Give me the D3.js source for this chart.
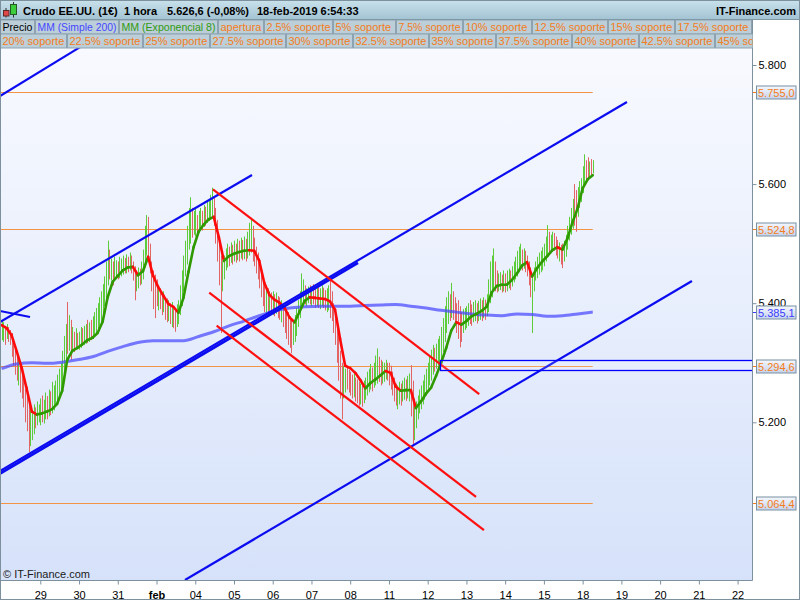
<!DOCTYPE html>
<html><head><meta charset="utf-8">
<script src="https://cdn.jsdelivr.net/npm/d3@7"></script>
<style>body{margin:0;background:#fff}svg{display:block;font-family:"Liberation Sans",Arial,sans-serif}</style>
</head><body><svg id="c" width="800" height="600"></svg>
<script>
// ---------------- DATA ----------------
const dayLabels = ["29","30","31","feb","04","05","06","07","08","11","12","13","14","15","18","19","20","21","22"];
const candlesPerDay = 23;
const highs = [
5372,5368,5362,5365,5360,5355,5350,5340,5325,5315,5305,5300,5290,5275,5255,5260,5240,5225,5215,5230,5225,5235,5230,
5240,5245,5238,5250,5244,5255,5252,5268,5262,5270,5280,5290,5300,5320,5345,5365,5402,5380,5372,5360,5352,5358,5350,
5352,5360,5358,5362,5365,5372,5368,5372,5378,5385,5392,5400,5410,5420,5432,5445,5470,5505,5490,5475,5470,5478,5472,
5470,5478,5475,5480,5476,5482,5478,5485,5480,5470,5462,5455,5460,5458,5470,5490,5530,5548,5545,5500,5470,5455,5448,
5440,5430,5425,5418,5420,5410,5408,5405,5400,5402,5395,5390,5398,5405,5430,5455,5480,5505,5530,5560,5578,5560,5555,
5560,5548,5555,5560,5555,5565,5562,5570,5575,5582,5594,5580,5560,5540,5510,5480,5470,5480,5492,5500,5495,5502,5498,
5505,5500,5508,5505,5510,5506,5512,5508,5520,5535,5543,5530,5510,5495,5485,5475,5460,5445,5438,5430,5425,5420,5418,
5420,5415,5418,5412,5410,5405,5400,5395,5390,5385,5378,5372,5370,5380,5392,5405,5420,5450,5440,5430,5425,5428,5430,
5428,5432,5425,5430,5428,5425,5430,5426,5422,5425,5430,5440,5420,5400,5390,5375,5350,5320,5300,5295,5290,5292,5288,
5285,5280,5282,5275,5272,5268,5265,5262,5270,5275,5285,5290,5298,5292,5300,5312,5324,5310,5305,5302,5300,5305,5300,
5300,5295,5285,5275,5265,5262,5268,5265,5270,5275,5272,5278,5282,5296,5270,5240,5235,5245,5255,5262,5270,5280,5290,
5300,5310,5322,5330,5325,5332,5340,5345,5360,5375,5395,5410,5420,5415,5434,5420,5410,5400,5405,5395,5385,5390,5392,
5395,5400,5405,5398,5402,5405,5400,5404,5408,5405,5410,5406,5415,5440,5470,5480,5492,5470,5455,5450,5452,5448,5455,
5450,5455,5458,5455,5462,5470,5478,5488,5495,5500,5490,5492,5488,5480,5470,5460,5445,5460,5470,5478,5485,5488,5494,
5500,5512,5531,5520,5515,5520,5518,5512,5506,5502,5498,5500,5505,5515,5530,5545,5560,5575,5600,5590,5595,5605,5610,
5630,5650,5640,5645,5638,5642,5640];
const lows = [
5338,5335,5330,5340,5335,5330,5310,5295,5280,5270,5262,5250,5240,5225,5200,5185,5150,5160,5170,5180,5190,5195,5200,
5195,5200,5198,5205,5205,5210,5212,5215,5220,5228,5235,5245,5255,5265,5280,5300,5315,5320,5305,5320,5318,5322,5325,
5322,5325,5328,5330,5332,5333,5335,5338,5340,5345,5350,5355,5362,5370,5378,5395,5410,5430,5440,5438,5430,5440,5445,
5440,5442,5445,5448,5450,5450,5452,5455,5450,5438,5405,5420,5425,5430,5432,5440,5460,5480,5470,5450,5420,5390,5375,
5395,5388,5390,5380,5385,5372,5368,5370,5365,5360,5358,5352,5360,5365,5380,5395,5420,5445,5465,5490,5500,5510,5515,
5512,5515,5520,5525,5522,5528,5530,5535,5538,5540,5545,5530,5500,5470,5430,5350,5420,5440,5455,5460,5462,5468,5465,
5470,5468,5472,5470,5475,5472,5474,5470,5475,5480,5485,5470,5462,5450,5440,5425,5410,5395,5385,5380,5378,5380,5382,
5380,5378,5382,5375,5372,5368,5360,5350,5340,5330,5325,5316,5330,5335,5345,5360,5375,5390,5395,5398,5395,5400,5398,
5395,5398,5392,5395,5392,5390,5395,5392,5388,5385,5388,5375,5370,5350,5330,5300,5270,5240,5205,5240,5250,5255,5250,
5245,5240,5242,5235,5232,5228,5230,5226,5232,5238,5245,5250,5255,5252,5258,5262,5265,5268,5262,5265,5268,5272,5270,
5262,5255,5245,5235,5228,5222,5230,5228,5235,5238,5236,5240,5235,5210,5160,5170,5190,5205,5215,5222,5230,5238,5245,
5255,5262,5270,5280,5285,5290,5295,5298,5305,5318,5335,5350,5365,5370,5375,5372,5365,5350,5340,5326,5335,5350,5355,
5358,5362,5365,5362,5368,5370,5366,5370,5372,5370,5375,5372,5378,5385,5400,5410,5420,5420,5418,5420,5422,5418,5420,
5418,5420,5425,5422,5428,5435,5440,5445,5452,5458,5455,5458,5452,5445,5430,5410,5350,5420,5438,5442,5448,5452,5455,
5462,5470,5478,5482,5484,5486,5488,5480,5475,5470,5465,5459,5470,5478,5490,5505,5515,5525,5530,5520,5545,5560,5570,
5585,5600,5605,5610,5612,5615,5618];
const dirs = ("ggrgrrrrrrgrrrrrrgggrgg"+"grggrgrgggggggggrgrgrgr"+"ggrggrgrggggggggggrgrgg"+"rgggrgrgrrrggrggggrrrrr"+
  "rgrrgrrgrgrrgggggggggrg"+"grggrgrggggrrrrrggggrgr"+"grgrgrgrgggrrrrrrrrgrgr"+"grgrrgrrrrrrgggggggrggr"+
  "grrgrggrrggrrrrrrrrggrr"+"rrgrrrgrgggggrgggrrgggr"+"rrrrrggrggrggrrgggggggg"+"ggggrggggggggrgrrrrrrgg"+
  "ggrrggrggrgrgggggrrggrg"+"rggrggggggrgrrrrggggggg"+"gggrggrrrgrrggggggrrggg"+"ggrrgrg").split("");
const emaStep = 3;
const ema8 = [5363,5358,5346,5319,5291,5255,5218,5213,5215,5218,
5222,5231,5253,5305,5320,5325,5331,5338,5342,5350,
5369,5410,5436,5446,5455,5460,5461,5447,5454,5478,
5446,5427,5413,5399,5394,5384,5409,5453,5494,5520,
5532,5541,5545,5511,5471,5479,5483,5486,5488,5489,
5488,5471,5434,5414,5406,5401,5392,5376,5368,5386,
5404,5410,5409,5408,5407,5403,5389,5340,5295,5291,
5283,5271,5257,5266,5272,5279,5286,5283,5260,5253,
5254,5254,5224,5235,5248,5258,5278,5300,5325,5354,
5368,5364,5370,5378,5382,5387,5394,5418,5429,5431,
5431,5439,5450,5463,5469,5445,5459,5470,5479,5489,
5494,5490,5509,5536,5559,5593,5608,5615];
const smaStep = 9;
const sma200 = [5290,5298,5300,5299,5301,5305,5310,5319,5327,5334,
5337,5337,5337,5344,5352,5362,5370,5379,5387,5392,
5394,5395,5395,5395,5396,5397,5398,5395,5392,5388,
5385,5382,5380,5379,5382,5381,5378,5379,5382,5385.1];
const levels = [5755.0, 5524.8, 5294.6, 5064.4];
const yTicks = [5200, 5400, 5600, 5800];
// trendlines: [t1, price1, t2, price2] (t in hourly bars)
const blueLines = [
  [-0.93,5748,46.6,5830],[-0.93,5368.4,148.7,5615.3],[-0.93,5386.9,16.9,5376.8],
  [-0.93,5118.2,371.3,5737.9],[-0.93,5114.0,211.6,5467.8],[108.9,4935.2,409.9,5437.3]];
const redLines = [[125.5,5591.3,283.6,5247.5],[123.3,5417.6,281.7,5074.6],[127.7,5362.2,286.4,5019.1]];
const zone = [260.3, 460, 5287.3, 5304.1];
const legendRow1 = ["Precio","MM (Simple 200)","MM (Exponencial 8)","apertura","2.5% soporte","5% soporte","7.5% soporte","10% soporte","12.5% soporte","15% soporte","17.5% soporte"];
const legendRow2 = ["20% soporte","22.5% soporte","25% soporte","27.5% soporte","30% soporte","32.5% soporte","35% soporte","37.5% soporte","40% soporte","42.5% soporte","45% soporte"];
const headerTexts = ["Crudo EE.UU. (1€)","1 hora","5.626,6 (-0,08%)","18-feb-2019 6:54:33"];

// ---------------- LAYOUT ----------------
const W = 800, H = 600, PL = 0, PR = 752, PT = 19.5, PB = 580;
const edges1 = [0,35,119,218,264,333,396,463,532,608,675,752];
const edges2 = [0,67,143,210,286,353,429,496,572,639,715,782];
const col1 = ["#000","#4646ff","#2f9a10","#f47c20","#f47c20","#f47c20","#f47c20","#f47c20","#f47c20","#f47c20","#f47c20"];
const headerX = [23,124,167,257];

const loc = d3.formatLocale({decimal:",", thousands:".", grouping:[3], currency:["",""]});
const fmt0 = loc.format(",.0f"), fmt1 = loc.format(",.1f");

const svg = d3.select("#c");
const defs = svg.append("defs");
function grad(id, stops){
  const g = defs.append("linearGradient").attr("id",id).attr("x1",0).attr("y1",0).attr("x2",0).attr("y2",1);
  stops.forEach(s=>g.append("stop").attr("offset",s[0]).attr("stop-color",s[1]));
}
grad("bg",[[0,"#fafbff"],[1,"#d6e2fa"]]);
grad("hdr",[[0,"#c9e2ec"],[1,"#a3c3d3"]]);
grad("box",[[0,"#f4f7fd"],[1,"#c6d3ec"]]);
defs.append("clipPath").attr("id","plot").append("rect").attr("x",PL).attr("y",PT).attr("width",PR-PL).attr("height",PB-PT);

const x = d3.scaleLinear().domain([0, candlesPerDay*19]).range([1.56, 737.6]);
const y = d3.scaleLinear().domain([5200, 5800]).range([422.3, 65]);
const lastIdx = highs.length - 1;

svg.append("rect").attr("width",W).attr("height",H).attr("fill","#fff");
svg.append("rect").attr("x",PL).attr("y",PT).attr("width",PR-PL).attr("height",PB-PT).attr("fill","url(#bg)");

const plot = svg.append("g").attr("clip-path","url(#plot)");

// horizontal support levels
plot.selectAll("line.lvl").data(levels).join("line")
  .attr("x1",0).attr("x2",x(lastIdx)).attr("y1",d=>Math.round(y(d))+0.5).attr("y2",d=>Math.round(y(d))+0.5)
  .attr("stroke","#f29444").attr("stroke-width",1);

// candles (high-low bars)
plot.selectAll("line.c").data(highs).join("line")
  .attr("x1",(d,i)=>Math.round(x(i))+0.5).attr("x2",(d,i)=>Math.round(x(i))+0.5)
  .attr("y1",d=>y(d)).attr("y2",(d,i)=>y(lows[i]))
  .attr("stroke",(d,i)=>dirs[i]==="g"?"#5ccc3a":"#e26464").attr("stroke-width",1);

// SMA 200
plot.append("path").datum(sma200)
  .attr("d",d3.line().x((d,i)=>x(Math.min(i*smaStep,lastIdx))).y(d=>y(d)).curve(d3.curveMonotoneX))
  .attr("fill","none").attr("stroke","#4848ff").attr("stroke-opacity",0.72).attr("stroke-width",3);

// EMA 8 colored by slope
const emaSeg = d3.range(1, ema8.length).map(k=>({k, up: ema8[k] >= ema8[k-1]}));
plot.selectAll("line.e").data(emaSeg).join("line")
  .attr("x1",d=>x((d.k-1)*emaStep)).attr("y1",d=>y(ema8[d.k-1]))
  .attr("x2",d=>x(d.k*emaStep)).attr("y2",d=>y(ema8[d.k]))
  .attr("stroke",d=>d.up?"#2f9a00":"#ff0a0a").attr("stroke-width",2.6).attr("stroke-linecap","round");

// trend lines
plot.selectAll("line.b").data(blueLines).join("line")
  .attr("x1",d=>x(d[0])).attr("y1",d=>y(d[1])).attr("x2",d=>x(d[2])).attr("y2",d=>y(d[3]))
  .attr("stroke","#0c0cf0").attr("stroke-width",(d,j)=>j===4?2.8:2.2);
plot.selectAll("line.r").data(redLines).join("line")
  .attr("x1",d=>x(d[0])).attr("y1",d=>y(d[1])).attr("x2",d=>x(d[2])).attr("y2",d=>y(d[3]))
  .attr("stroke","#ff1010").attr("stroke-width",2.2);
// zone rectangle
plot.append("rect").attr("x",Math.round(x(zone[0]))+0.5).attr("y",Math.round(y(zone[3]))+0.5)
  .attr("width",x(zone[1])-x(zone[0])).attr("height",Math.round(y(zone[2]))-Math.round(y(zone[3])))
  .attr("fill","#ffffff").attr("fill-opacity",0.12).attr("stroke","#0000ff").attr("stroke-width",1.3);

// copyright
svg.append("text").attr("x",3).attr("y",578).attr("font-size",11).attr("fill","#1a1a1a").text("© IT-Finance.com");

// frame lines
svg.append("line").attr("x1",PR+0.5).attr("x2",PR+0.5).attr("y1",PT).attr("y2",PB+0.5).attr("stroke","#7c909e");
svg.append("line").attr("x1",0).attr("x2",PR+0.5).attr("y1",PB+0.5).attr("y2",PB+0.5).attr("stroke","#7c909e");

// x axis
const xAxis = d3.axisBottom(x).tickValues(d3.range(1,20).map(d=>d*candlesPerDay))
  .tickFormat((d,j)=>dayLabels[j]).tickSize(4).tickPadding(4);
const gx = svg.append("g").attr("transform",`translate(0,${PB+0.5})`).call(xAxis);
gx.select(".domain").remove();
gx.selectAll(".tick line").attr("stroke","#7c909e");
gx.selectAll(".tick text").attr("font-size",11).attr("font-family","Liberation Sans, Arial, sans-serif").attr("fill","#000")
  .attr("font-weight",(d,j)=>dayLabels[j]==="feb"?"bold":"normal").attr("dy","0.95em");

// y axis (right)
const yAxis = d3.axisRight(y).tickValues(yTicks).tickFormat(fmt0).tickSize(4).tickPadding(2);
const gy = svg.append("g").attr("transform",`translate(${PR+0.5},0)`).call(yAxis);
gy.select(".domain").remove();
gy.selectAll(".tick line").attr("stroke","#7c909e");
gy.selectAll(".tick text").attr("font-size",11).attr("font-family","Liberation Sans, Arial, sans-serif").attr("fill","#000");

// value boxes
const boxes = levels.map(v=>({v, c:"#f47c20"})).concat([{v: sma200[sma200.length-1], c:"#3c3cff"}]);
const bg = svg.selectAll("g.vb").data(boxes).join("g").attr("transform",d=>`translate(0,${Math.round(y(d.v))})`);
bg.append("line").attr("x1",PR+1).attr("x2",PR+5).attr("y1",0.5).attr("y2",0.5).attr("stroke",d=>d.c);
bg.append("rect").attr("x",756.5).attr("y",-6).attr("width",39.5).attr("height",13)
  .attr("fill","url(#box)").attr("stroke","#7890a2");
bg.append("text").attr("x",758).attr("y",4.5).attr("font-size",11).attr("fill",d=>d.c).text(d=>fmt1(d.v));

// legend rows
function legendRow(labels, edges, top, colors){
  const g = svg.append("g");
  labels.forEach((t,j)=>{
    const x0 = edges[j];
    g.append("rect").attr("x",x0+0.5).attr("y",top+0.5).attr("width",Math.max(0,edges[j+1]-edges[j]-1)).attr("height",14)
      .attr("fill","#bccfd9").attr("stroke","#8ea3b1");
    const tx = g.append("text").attr("x",x0+2.5).attr("y",top+11.5).attr("font-size",11).attr("fill",colors[j]).text(t);
    const avail = edges[j+1]-edges[j]-5;
    if (tx.node().getComputedTextLength() > avail) tx.attr("textLength",avail).attr("lengthAdjust","spacingAndGlyphs");
  });
  return g;
}
defs.append("clipPath").attr("id","leg").append("rect").attr("x",0).attr("y",0).attr("width",PR+0.5).attr("height",60);
legendRow(legendRow1, edges1, 19.5, col1).attr("clip-path","url(#leg)");
legendRow(legendRow2, edges2, 33.5, legendRow2.map(()=> "#f47c20")).attr("clip-path","url(#leg)");

// header
svg.append("rect").attr("x",0).attr("y",0).attr("width",W).attr("height",19.5).attr("fill","url(#hdr)");
svg.append("line").attr("x1",0).attr("x2",W).attr("y1",19.5).attr("y2",19.5).attr("stroke","#7f98a6");
// icon
svg.append("line").attr("x1",6).attr("x2",6).attr("y1",8).attr("y2",17.5).attr("stroke","#303030");
svg.append("rect").attr("x",3.5).attr("y",10.5).attr("width",5.5).attr("height",5.5).attr("fill","#e04848").attr("stroke","#5a2a2a");
svg.append("line").attr("x1",13.5).attr("x2",13.5).attr("y1",2).attr("y2",17.5).attr("stroke","#303030");
svg.append("rect").attr("x",10.5).attr("y",4.5).attr("width",6).attr("height",10).attr("fill","#3ccc3c").attr("stroke","#245a24");
headerTexts.forEach((t,j)=>svg.append("text").attr("x",headerX[j]).attr("y",14.5).attr("font-size",11)
  .attr("font-weight","bold").attr("fill","#000").text(t));
svg.append("text").attr("x",796).attr("y",14.5).attr("text-anchor","end").attr("font-size",11).attr("font-weight","bold").attr("fill","#000").text("IT-Finance.com");

// outer border
svg.append("rect").attr("x",0.5).attr("y",0.5).attr("width",W-1).attr("height",H-1).attr("fill","none").attr("stroke","#7c909e");
</script></body></html>
